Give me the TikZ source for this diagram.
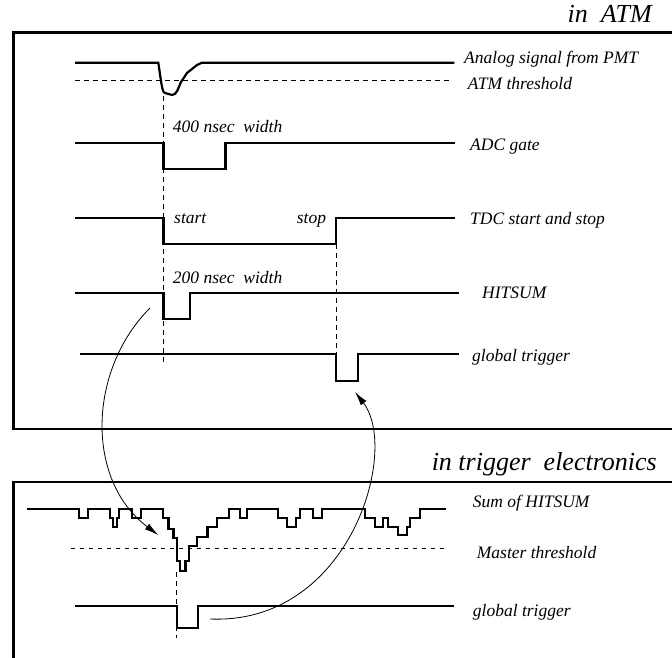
\documentclass[tikz,border=0pt]{standalone}
\usepackage{fontspec}
\setmainfont{Liberation Serif}
\usetikzlibrary{arrows.meta}
\begin{document}
\begin{tikzpicture}[x=1pt,y=-1pt,
  wave/.style={line width=2.2pt, line join=miter},
  frame/.style={line width=2.6pt},
  thresh/.style={line width=0.8pt, dash pattern=on 4.5pt off 4.5pt},
  guide/.style={line width=0.8pt, dash pattern=on 5pt off 4pt},
  lbl/.style={anchor=base west, inner sep=0pt, font=\fontsize{17.5}{20}\selectfont\itshape},
  title/.style={anchor=base east, inner sep=0pt, font=\fontsize{26}{30}\selectfont\itshape},
  link/.style={line width=0.8pt, -{Latex[length=14pt,width=7pt]}}]
\useasboundingbox (0,0) rectangle (672,658);

% frames
\draw[frame] (673,32.5) -- (13.3,32.5) -- (13.3,429) -- (673,429);
\draw[frame] (673,482) -- (13.3,482) -- (13.3,660);

% titles
\node[title] (tatm) at (652,23) {in\ \ ATM};
\node[title] (ttrig) at (657,470.5) {in trigger\ \ electronics};

% guides
\draw[guide] (163.5,96) -- (163.5,362);
\draw[guide] (336,244) -- (336,354);
\draw[guide] (176.6,572) -- (176.6,638);

% thresholds
\draw[thresh] (75,80.7) -- (452,80.7);
\draw[thresh] (70.7,548.3) -- (448,548.3);

% upper waveforms
\draw[wave] (75,62.7) -- (158.3,62.7) .. controls (161,80) and (162,93) .. (165,93)
  -- (172,95) .. controls (177,95) and (178,88) .. (181,82) -- (187,73) -- (197,65) -- (202,62.7) -- (454.3,62.7);
\draw[wave] (75,142.7) -- (163.5,142.7) -- (163.5,169) -- (225.5,169) -- (225.5,142.7) -- (455,142.7);
\draw[wave] (75,218.3) -- (163.5,218.3) -- (163.5,244) -- (336,244) -- (336,218.3) -- (455,218.3);
\draw[wave] (75,292.7) -- (163.5,292.7) -- (163.5,319.3) -- (190,319.3) -- (190,292.7) -- (459,292.7);
\draw[wave] (80,354.3) -- (336,354.3) -- (336,380.7) -- (357.7,380.7) -- (357.7,354.3) -- (459,354.3);

% lower waveforms
\draw[wave] (26.7,509.3) -- (79.3,509.3) -- (79.3,518.3) -- (88.3,518.3) -- (88.3,509.3)
  -- (110,509.3) -- (110,518.3) -- (112.7,518.3) -- (112.7,526.7) -- (116.7,526.7) -- (116.7,518.3)
  -- (119.3,518.3) -- (119.3,509.3) -- (131.7,509.3) -- (131.7,518.3) -- (140.7,518.3) -- (140.7,509.3)
  -- (163.3,509.3) -- (163.3,518.3) -- (168.5,518.3) -- (168.5,529) -- (173.5,529) -- (173.5,538)
  -- (176.6,538) -- (176.6,561) -- (180,561) -- (180,571) -- (185.5,571) -- (185.5,561)
  -- (189,561) -- (189,546) -- (197,546) -- (197,537) -- (207.5,537) -- (207.5,527)
  -- (217,527) -- (217,518.3) -- (229,518.3) -- (229,509.3)
  -- (240,509.3) -- (240,518.3) -- (246.7,518.3) -- (246.7,509.3)
  -- (278.3,509.3) -- (278.3,518.3) -- (286.7,518.3) -- (286.7,526.7) -- (296,526.7) -- (296,518.3)
  -- (300,518.3) -- (300,509.3) -- (313.3,509.3) -- (313.3,518.3) -- (321.7,518.3) -- (321.7,509.3)
  -- (365,509.3) -- (365,518.3) -- (375,518.3) -- (375,526.7) -- (383.3,526.7) -- (383.3,518.3)
  -- (388.3,518.3) -- (388.3,526.7) -- (398.3,526.7) -- (398.3,535) -- (406.7,535) -- (406.7,526.7)
  -- (410,526.7) -- (410,518.3) -- (420,518.3) -- (420,509.3) -- (445.7,509.3);
\draw[wave] (75,606) -- (176.6,606) -- (176.6,628.3) -- (198,628.3) -- (198,606) -- (454.3,606);

% labels
\node[lbl] (lanalog) at (464,63.3) {Analog signal from PMT};
\node[lbl] (lthr) at (467.7,89.3) {ATM threshold};
\node[lbl] (ladc) at (470,150) {ADC gate};
\node[lbl] (ltdc) at (470,224) {TDC start and stop};
\node[lbl] (lhit) at (482,298) {HITSUM};
\node[lbl] (lglob) at (472,361) {global trigger};
\node[lbl] (l400) at (172.7,133) {400 nsec\ \ width};
\node[lbl] (lstart) at (174,223) {start};
\node[lbl] (lstop) at (296.7,223) {stop};
\node[lbl] (l200) at (172.7,283.3) {200 nsec\ \ width};
\node[lbl] (lsum) at (472.7,507) {Sum of HITSUM};
\node[lbl] (lmaster) at (476.7,558.3) {Master threshold};
\node[lbl] (lglob2) at (472.7,616) {global trigger};

% arrows
\coordinate (a1s) at (150,308);
\coordinate (a1e) at (158.3,535);
\coordinate (a2s) at (210,619);
\coordinate (a2e) at (355,392);
\draw[link] (a1s) .. controls (88,370) and (85,480) .. (a1e);
\draw[link] (a2s) .. controls (350,625) and (400,450) .. (a2e);
\end{tikzpicture}
\end{document}
